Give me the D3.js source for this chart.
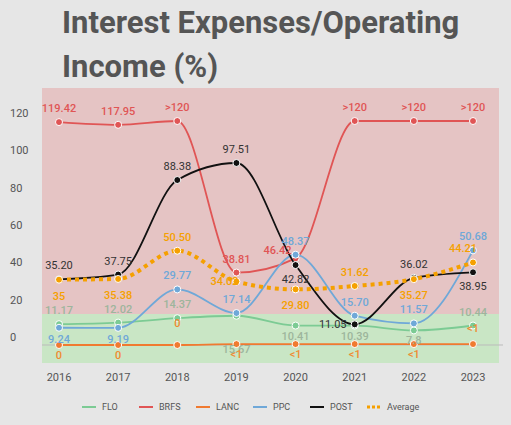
<!DOCTYPE html><html><head><meta charset="utf-8"><script src="https://cdn.jsdelivr.net/npm/d3@7"></script>
<style>body{margin:0;background:#e6e6e6;font-family:Roboto,sans-serif}</style></head><body><svg id="c" width="511" height="425"></svg>
<script>
const years=[2016,2017,2018,2019,2020,2021,2022,2023];
const FLO=[11.17,12.02,14.37,15.67,10.41,10.39,7.8,10.44];
const BRFS=[119.42,117.95,120,38.81,46.42,120,120,120];
const LANC=[0,0,0,0.5,0.5,0.5,0.5,0.5];
const PPC=[9.24,9.19,29.77,17.14,48.37,15.70,11.57,50.68];
const POST=[35.20,37.75,88.38,97.51,42.82,11.05,36.02,38.95];
const AVG=[35,35.38,50.50,34.02,29.80,31.62,35.27,44.21];
const BRFSlab=["119.42","117.95",">120","38.81","46.42",">120",">120",">120"];
const LANClab=["0","0","0","<1","<1","<1","<1","<1"];
const FLOlab=["11.17","12.02","14.37","15.67","10.41","10.39","7.8","10.44"];
const PPClab=["9.24","9.19","29.77","17.14","48.37","15.70","11.57","50.68"];
const POSTlab=["35.20","37.75","88.38","97.51","42.82","11.05","36.02","38.95"];
const AVGlab=["35","35.38","50.50","34.02","29.80","31.62","35.27","44.21"];
const yTicks=[0,20,40,60,80,100,120];
const svg=d3.select("#c");
svg.append("text").attr("x",62).attr("y",33).attr("font-size",31).attr("font-weight","bold").attr("fill","#555").text("Interest Expenses/Operating");
svg.append("text").attr("x",62).attr("y",77).attr("font-size",31).attr("font-weight","bold").attr("fill","#555").text("Income (%)");
const x=d3.scalePoint().domain(years).range([59,473]);
const y=d3.scaleLinear().domain([0,120]).range([345,121]);
svg.append("rect").attr("x",42).attr("y",88).attr("width",457).attr("height",314-88).attr("fill","#e5c4c4");
svg.append("rect").attr("x",42).attr("y",314).attr("width",457).attr("height",363-314).attr("fill","#c9e6c5");
svg.append("line").attr("x1",42).attr("x2",503).attr("y1",y(0)).attr("y2",y(0)).attr("stroke","#bbb");
yTicks.forEach(t=>svg.append("text").attr("x",10).attr("y",y(t)-4).attr("font-size",11).attr("fill","#555").text(t));
years.forEach(v=>svg.append("text").attr("x",x(v)).attr("y",381).attr("text-anchor","middle").attr("font-size",11).attr("fill","#555").text(v));
const series=[
 {n:"FLO",d:FLO,l:FLOlab,c:"#7ccb94",lc:"#9db59c",dy:[-10,-10,-10,37,14,14,14,-10]},
 {n:"BRFS",d:BRFS,l:BRFSlab,c:"#e05555",lc:"#e05555",dy:[-10,-10,-10,-10,-4,-10,-10,-10]},
 {n:"LANC",d:LANC,l:LANClab,c:"#f07a30",lc:"#f08a30",dy:[14,14,-18,14,14,14,14,-12]},
 {n:"PPC",d:PPC,l:PPClab,c:"#6fa8d8",lc:"#6fa8d8",dy:[15,15,-10,-10,-10,-10,-10,-10]},
 {n:"POST",d:POST,l:POSTlab,c:"#111",lc:"#333",dy:[-10,-10,-10,-10,18,4,-10,18]},
 {n:"Average",d:AVG,l:AVGlab,c:"#f5a000",lc:"#f5a000",dy:[20,20,-10,4,20,-10,20,-10],dash:true}
];
const line=d3.line().x((d,i)=>x(years[i])).y(d=>y(d)).curve(d3.curveMonotoneX);
series.forEach(s=>{
 svg.append("path").attr("d",line(s.d)).attr("fill","none").attr("stroke",s.c).attr("stroke-width",s.dash?4:1.8).attr("stroke-dasharray",s.dash?"4,4":null);
 s.d.forEach((v,i)=>svg.append("circle").attr("cx",x(years[i])).attr("cy",y(v)).attr("r",3.5).attr("fill",s.c).attr("stroke","#fff").attr("stroke-width",1));
});
series.forEach(s=>{
 s.d.forEach((v,i)=>{
  let dx=0,dy=s.dy[i];
  if(s.n==="POST"&&i===5){dx=-22;}
  if(s.n==="Average"&&i===3){dx=-12;}
  if(s.n==="Average"&&i===7){dx=-10;}
  if(s.n==="BRFS"&&i===4){dx=-18;}
  svg.append("text").attr("x",x(years[i])+dx).attr("y",y(v)+dy).attr("text-anchor","middle").attr("font-size",11).attr("font-weight",s.n==="POST"?"normal":"500").attr("fill",s.lc).text(s.l[i]);
 });
});
const lg=svg.append("g");
series.forEach((s,i)=>{const lx=82+i*57;
 lg.append("line").attr("x1",lx).attr("x2",lx+14).attr("y1",407).attr("y2",407).attr("stroke",s.c).attr("stroke-width",s.dash?3:2).attr("stroke-dasharray",s.dash?"3,2":null);
 lg.append("text").attr("x",lx+20).attr("y",410).attr("font-size",9).attr("fill","#555").text(s.n);
});
</script></body></html>
